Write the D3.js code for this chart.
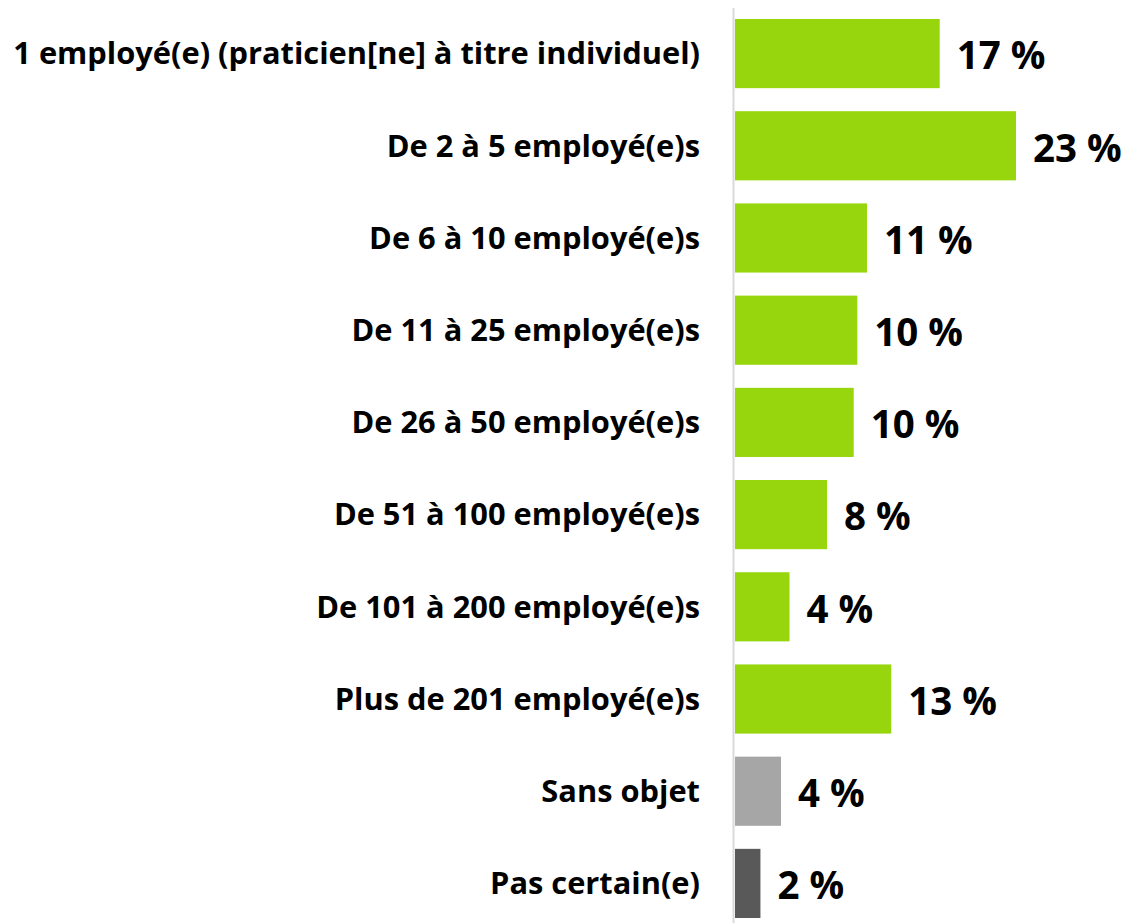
<!DOCTYPE html>
<html>
<head>
<meta charset="utf-8">
<script src="https://cdn.jsdelivr.net/npm/d3@7"></script>
<style>
    body { margin: 0; background: #fff; }
    text { font-family: "Open Sans", Lato, sans-serif; font-weight: bold; fill: #000; }
</style>
</head>
<body>
<svg width="1130" height="923"></svg>
<script>
let categories = [
    "1 employé(e) (praticien[ne] à titre individuel)",
    "De 2 à 5 employé(e)s",
    "De 6 à 10 employé(e)s",
    "De 11 à 25 employé(e)s",
    "De 26 à 50 employé(e)s",
    "De 51 à 100 employé(e)s",
    "De 101 à 200 employé(e)s",
    "Plus de 201 employé(e)s",
    "Sans objet",
    "Pas certain(e)"
];
let values = [16.9, 23.2, 10.9, 10.1, 9.8, 7.6, 4.5, 12.9, 3.8, 2.1];
let valueLabels = ["17 %", "23 %", "11 %", "10 %", "10 %", "8 %", "4 %", "13 %", "4 %", "2 %"];
let barColors = ["#97d60d", "#97d60d", "#97d60d", "#97d60d", "#97d60d", "#97d60d", "#97d60d", "#97d60d", "#a6a6a6", "#595959"];

let svg = d3.select("svg");

let x = d3.scaleLinear()
    .domain([0, 23.2])
    .range([735, 1016]);

let y = d3.scaleBand()
    .domain(categories)
    .range([19, 918])
    .paddingInner(0.25)
    .paddingOuter(0);

// vertical axis line
svg.append("line")
    .attr("x1", 733.5).attr("x2", 733.5)
    .attr("y1", 8).attr("y2", 923)
    .attr("stroke", "#d9d9d9")
    .attr("stroke-width", 2);

svg.selectAll("rect.bar")
    .data(values)
    .enter().append("rect")
    .attr("class", "bar")
    .attr("x", x(0))
    .attr("y", (d, i) => y(categories[i]))
    .attr("width", (d) => x(d) - x(0))
    .attr("height", y.bandwidth())
    .attr("fill", (d, i) => barColors[i]);

svg.selectAll("text.cat")
    .data(categories)
    .enter().append("text")
    .attr("class", "cat")
    .attr("x", 700)
    .attr("y", (d) => y(d) + y.bandwidth() / 2)
    .attr("dy", "0.35em")
    .attr("text-anchor", "end")
    .style("font-size", "30.8px")
    .text((d) => d);

svg.selectAll("text.val")
    .data(values)
    .enter().append("text")
    .attr("class", "val")
    .attr("x", (d) => x(d) + 17)
    .attr("y", (d, i) => y(categories[i]) + y.bandwidth() / 2)
    .attr("dy", "0.41em")
    .style("font-size", "38.5px")
    .text((d, i) => valueLabels[i]);
</script>
</body>
</html>
